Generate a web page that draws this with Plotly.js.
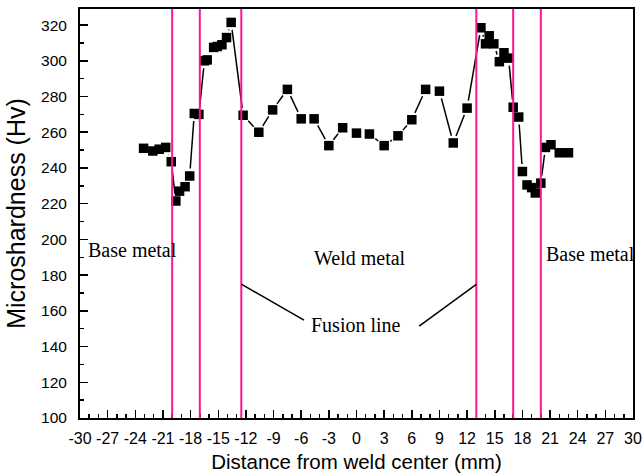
<!DOCTYPE html>
<html>
<head>
<meta charset="utf-8">
<script src="https://cdn.plot.ly/plotly-3.0.1.min.js"></script>
<style>html,body{margin:0;padding:0;background:#fff;}#chart{width:644px;height:476px;}</style>
</head>
<body>
<div id="chart"></div>
<script>
// ---- data ----
const distance = [-23.1, -22.1, -21.4, -20.7, -20.1, -19.6, -19.2, -18.6, -18.1, -17.6, -17.1, -16.5, -16.2, -15.5, -15.1, -14.6, -14.1, -13.6, -12.3, -10.6, -9.1, -7.5, -6.0, -4.6, -3.0, -1.5, 0.0, 1.4, 3.0, 4.5, 6.0, 7.5, 9.0, 10.5, 12.0, 13.5, 14.0, 14.4, 14.9, 15.5, 16.0, 16.5, 17.0, 17.6, 18.0, 18.5, 19.0, 19.4, 20.0, 20.5, 21.1, 22.0, 23.0];
const hardness = [251, 249.5, 250.5, 251.5, 243.5, 221.5, 227, 229.5, 235.5, 270.5, 270, 300, 300.5, 307.5, 308, 309, 313, 321.5, 269.5, 260, 272.5, 284, 267.5, 267.5, 252.5, 262.5, 259.5, 259, 252.5, 258, 267, 284, 283, 254, 273.5, 318.5, 309.5, 314, 309.5, 299.5, 304.5, 301.5, 274, 268.5, 238, 230.5, 229, 226, 231.5, 251.5, 253, 248.5, 248.5];
const zoneBoundaries = [-20, -17, -12.5, 13, 17, 20];
const fusionLines = [-12.5, 13];
const xTickVals = [-30, -27, -24, -21, -18, -15, -12, -9, -6, -3, 0, 3, 6, 9, 12, 15, 18, 21, 24, 27, 30];
const xTickText = ['-30', '-27', '-24', '-21', '-18', '-15', '-12', '-9', '-6', '-3', '0', '3', '6', '9', '12', '15', '18', '21', '24', '27', '30'];
const yTickVals = [100, 120, 140, 160, 180, 200, 220, 240, 260, 280, 300, 320];
const zoneLabels = ['Base metal', 'Weld metal', 'Base metal', 'Fusion line'];

const PINK = '#FF1493';
const serif = {family: '"Liberation Serif", "Times New Roman", serif', size: 20, color: '#000'};
const sans = '"Liberation Sans", Arial, sans-serif';

const shapes = zoneBoundaries.map(v => ({
  type: 'line', xref: 'x', yref: 'paper', x0: v, x1: v, y0: 0, y1: 1,
  line: {color: PINK, width: 2}
}));
// pointer lines from "Fusion line" label to the fusion boundaries
shapes.push({type: 'line', xref: 'x', yref: 'y', x0: fusionLines[0], y0: 175, x1: -5.7, y1: 154.8, line: {color: '#000', width: 1.5}});
shapes.push({type: 'line', xref: 'x', yref: 'y', x0: fusionLines[1], y0: 174.8, x1: 6.8, y1: 151.5, line: {color: '#000', width: 1.5}});

const annotations = [
  {x: -29.4, y: 194, xanchor: 'left', yanchor: 'middle', text: zoneLabels[0]},
  {x: 0.35, y: 189.5, xanchor: 'center', yanchor: 'middle', text: zoneLabels[1]},
  {x: 20.3, y: 191.8, xanchor: 'left', yanchor: 'middle', text: zoneLabels[2]},
  {x: -0.1, y: 152, xanchor: 'center', yanchor: 'middle', text: zoneLabels[3]}
].map(a => Object.assign({xref: 'x', yref: 'y', showarrow: false, font: serif}, a));

const layout = {
  width: 644, height: 476,
  margin: {l: 80, r: 10.5, t: 9, b: 58, pad: 0},
  paper_bgcolor: '#fff', plot_bgcolor: '#fff',
  showlegend: false,
  xaxis: {
    range: [-30, 30], tickmode: 'array', tickvals: xTickVals, ticktext: xTickText,
    ticks: 'inside', ticklen: 8, tickwidth: 1.5, tickcolor: '#000',
    minor: {dtick: 1, tick0: -30, ticks: 'inside', ticklen: 4, tickwidth: 1.5, tickcolor: '#000'},
    showline: true, mirror: true, linecolor: '#000', linewidth: 2,
    showgrid: false, zeroline: false,
    tickfont: {family: sans, size: 16, color: '#000'},
    ticklabelstandoff: 5,
    title: {text: 'Distance from weld center (mm)', font: {family: sans, size: 20.5, color: '#000'}, standoff: 8},
    automargin: false
  },
  yaxis: {
    range: [100, 329], tickmode: 'array', tickvals: yTickVals,
    ticks: 'inside', ticklen: 8, tickwidth: 1.5, tickcolor: '#000',
    minor: {dtick: 10, tick0: 100, ticks: 'inside', ticklen: 4, tickwidth: 1.5, tickcolor: '#000'},
    showline: true, mirror: true, linecolor: '#000', linewidth: 2,
    showgrid: false, zeroline: false,
    tickfont: {family: sans, size: 15.5, color: '#000'},
    ticklabelstandoff: 8,
    title: {text: 'Microshardness (Hv)', font: {family: sans, size: 25, color: '#000'}, standoff: 8},
    automargin: false
  },
  shapes: shapes,
  annotations: annotations
};

const markerTrace = {
  x: distance, y: hardness, type: 'scatter', mode: 'markers',
  marker: {symbol: 'square', size: 9.5, color: '#000', line: {width: 0}},
  hoverinfo: 'skip', cliponaxis: false
};

const gd = document.getElementById('chart');
Plotly.newPlot(gd, [markerTrace], layout, {displayModeBar: false, staticPlot: true}).then(() => {
  // Origin-style connecting line with a gap around each symbol
  const xa = gd._fullLayout.xaxis, ya = gd._fullLayout.yaxis;
  const gap = 7.5;
  const lx = [], ly = [];
  for (let i = 0; i < distance.length - 1; i++) {
    const x1 = xa.c2p(distance[i]), y1 = ya.c2p(hardness[i]);
    const x2 = xa.c2p(distance[i + 1]), y2 = ya.c2p(hardness[i + 1]);
    const dx = x2 - x1, dy = y2 - y1, L = Math.hypot(dx, dy);
    if (L <= 2 * gap) continue;
    const ux = dx / L, uy = dy / L;
    lx.push(xa.p2c(x1 + ux * gap), xa.p2c(x2 - ux * gap), null);
    ly.push(ya.p2c(y1 + uy * gap), ya.p2c(y2 - uy * gap), null);
  }
  return Plotly.addTraces(gd, {
    x: lx, y: ly, type: 'scatter', mode: 'lines',
    line: {color: '#000', width: 1.5}, connectgaps: false, hoverinfo: 'skip'
  }, 0);
});
</script>
</body>
</html>
